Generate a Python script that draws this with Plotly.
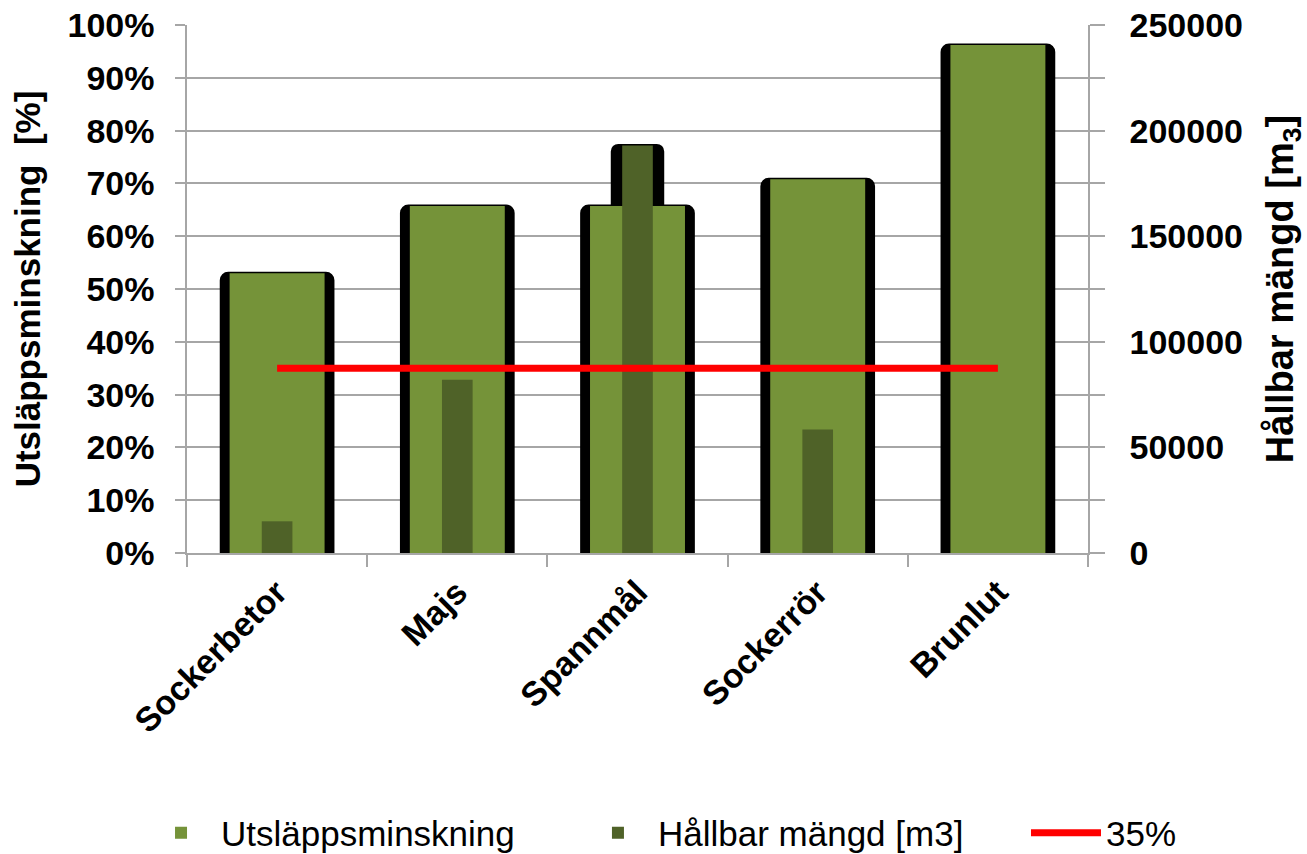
import plotly.graph_objects as go

categories = ["Sockerbetor", "Majs", "Spannmål", "Sockerrör", "Brunlut"]
utslapp = [0.530, 0.657, 0.657, 0.708, 0.962]          # Utsläppsminskning [%]
hallbar = [15000, 82000, 193000, 58500, 0]             # Hållbar mängd [m3]
threshold = [0.35, 0.35, 0.35, 0.35, 0.35]             # 35% line

FONT = "Liberation Sans"
GRID = "#A6A6A6"
LIGHT = "#759339"
DARK = "#4F6228"

fig = go.Figure()

# shadow of the dark bars (drawn at the very back)
fig.add_trace(go.Bar(x=categories, y=hallbar, yaxis="y", width=0.28,
                     marker=dict(color="black", line=dict(color="black", width=3),
                                 cornerradius=6),
                     showlegend=False, hoverinfo="skip"))
# shadow of the light bars
fig.add_trace(go.Bar(x=categories, y=utslapp, yaxis="y2", width=0.62,
                     marker=dict(color="black", line=dict(color="black", width=3),
                                 cornerradius=7),
                     showlegend=False, hoverinfo="skip"))
# light bars
fig.add_trace(go.Bar(x=categories, y=utslapp, yaxis="y2", width=0.527,
                     name="Utsläppsminskning", legend="legend",
                     marker=dict(color=LIGHT, line=dict(width=0))))
# dark bars
fig.add_trace(go.Bar(x=categories, y=hallbar, yaxis="y3", width=0.17,
                     name="Hållbar mängd [m3]", legend="legend2",
                     marker=dict(color=DARK, line=dict(width=0))))
# 35% line
fig.add_trace(go.Scatter(x=categories, y=threshold, yaxis="y4", mode="lines",
                         name="35%", legend="legend3",
                         line=dict(color="#FF0000", width=7)))

tickfont = dict(family=FONT, size=34, color="black", weight="bold")
legfont = dict(family=FONT, size=35, color="black")


def leg(xpos):
    return dict(orientation="h", xref="container", yref="container",
                x=xpos, xanchor="left", y=0.0246, yanchor="middle",
                font=legfont, itemwidth=70, bgcolor="rgba(0,0,0,0)")


fig.update_layout(
    width=1307, height=854,
    paper_bgcolor="white", plot_bgcolor="white",
    margin=dict(l=187, r=219, t=25, b=301, autoexpand=False),
    barmode="overlay",
    font=dict(family=FONT, color="black"),
    xaxis=dict(type="category", tickson="boundaries", ticks="outside", ticklen=12,
               tickcolor=GRID, tickwidth=1.5, showline=True, linecolor=GRID,
               linewidth=1.5, showgrid=False, tickangle=-45, tickfont=tickfont,
               ticklabelstandoff=4, anchor="y2"),
    yaxis=dict(range=[0, 250000], visible=False, showgrid=False),
    yaxis2=dict(overlaying="y", side="left", range=[0, 1], dtick=0.1,
                tickformat=".0%", showgrid=True, gridcolor=GRID, gridwidth=1.5,
                ticks="outside", ticklen=10, tickcolor=GRID, tickwidth=1.5,
                showline=True, linecolor=GRID, linewidth=1.5, zeroline=False,
                tickfont=tickfont, ticklabelstandoff=14, ticklabeloverflow="allow",
                title=dict(text="Utsläppsminskning  [%]",
                           font=dict(family=FONT, size=35, weight="bold", color="black"),
                           standoff=16)),
    yaxis3=dict(overlaying="y", side="right", range=[0, 250000], dtick=50000,
                tickformat="d",
                showgrid=False, ticks="outside", ticklen=15, tickcolor=GRID,
                tickwidth=1.5, showline=True, linecolor=GRID, linewidth=1.5,
                zeroline=False, tickfont=tickfont, ticklabelstandoff=18,
                ticklabeloverflow="allow",
                minor=dict(dtick=25000, ticks="outside", ticklen=15,
                           tickcolor=GRID, tickwidth=1.5, showgrid=False),
                title=dict(text="Hållbar mängd [m<sub>3</sub>]",
                           font=dict(family=FONT, size=38, weight="bold", color="black"),
                           standoff=24)),
    yaxis4=dict(overlaying="y", range=[0, 1], visible=False, showgrid=False),
    legend=leg(0.1079),
    legend2=leg(0.4422),
    legend3=leg(0.785),
)

# remove the browser's default 8px page margin so the figure fills the window
fig.write_html("out.html", config={"displayModeBar": False},
               post_script="document.body.style.margin='0';")
